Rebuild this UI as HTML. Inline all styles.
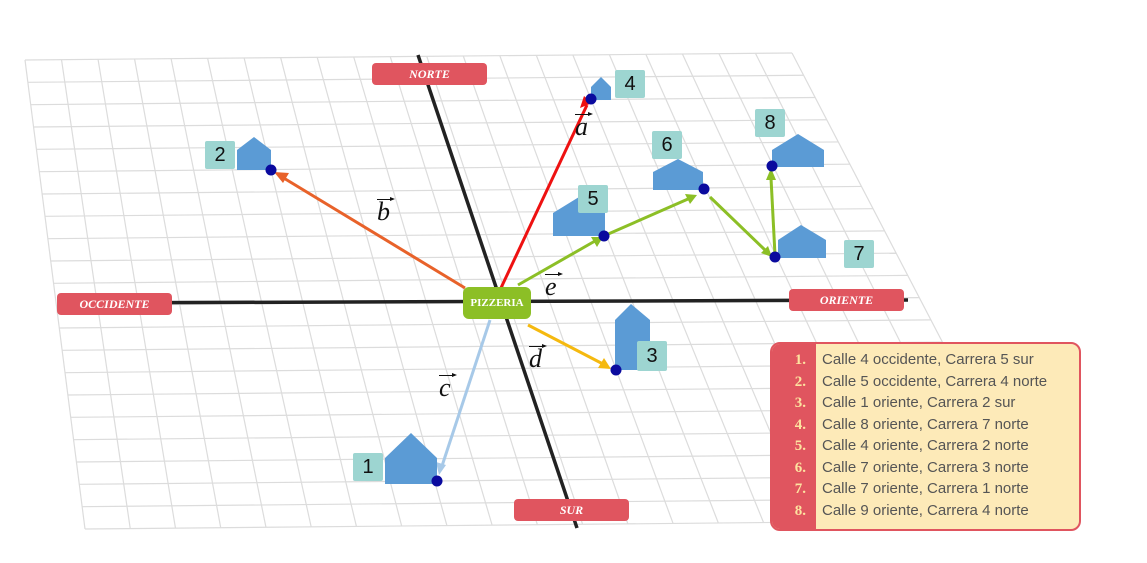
<!DOCTYPE html>
<html><head><meta charset="utf-8"><style>
body{margin:0;width:1147px;height:563px;background:#fff;overflow:hidden;position:relative;font-family:"Liberation Sans",sans-serif}
.lab{position:absolute;width:115px;height:22px;background:#e0555f;border-radius:4px;color:#fff;font:italic bold 12px "Liberation Serif",serif;text-align:center;line-height:22px}
.num{position:absolute;width:30px;height:28px;background:#9dd5d1;border-radius:2px;font-size:20px;line-height:28px;text-align:center;color:#111}
.vl{position:absolute;font:italic 26px "Liberation Serif",serif;color:#111}
.vl:before{content:"";position:absolute;left:0;top:2px;width:14px;height:1px;background:#111}
.vl:after{content:"";position:absolute;left:13px;top:0px;border-left:5px solid #111;border-top:2.5px solid transparent;border-bottom:2.5px solid transparent}
#leg{position:absolute;left:770px;top:342px;width:307px;height:185px;border:2px solid #e0555f;border-radius:10px;background:#fdeab8;overflow:hidden}
#leg .l{position:absolute;left:0;top:0;bottom:0;width:44px;background:#e0555f}
#leg .r{position:absolute;left:0;width:300px;height:21.5px;font-size:15px;color:#555;line-height:21.5px}
#leg .r b{display:inline-block;width:34px;text-align:right;color:#fde3a0;font:bold 15px "Liberation Serif",serif;margin-right:16px}
</style></head><body>
<svg width="1147" height="563" style="position:absolute;left:0;top:0">
<g id="grid" stroke="#dcdcdc" stroke-width="1.2" fill="none"></g>
<line x1="60" y1="303" x2="908" y2="300" stroke="#222" stroke-width="3.5"/>
<line x1="418" y1="55" x2="577" y2="528" stroke="#222" stroke-width="3.5"/>
<defs>
<marker id="m1" markerWidth="8" markerHeight="8" refX="7" refY="4" orient="auto" markerUnits="userSpaceOnUse" viewBox="0 0 8 8"><path d="M0,0L8,4L0,8z" fill="context-stroke"/></marker>
</defs>
<g stroke-width="3" fill="none">
<line x1="500" y1="290" x2="587" y2="105" stroke="#ee1111"/>
<path d="M584,96L592,103L580,108z" fill="#ee1111" stroke="none"/>
<line x1="465" y1="288" x2="282" y2="177" stroke="#e8622a"/>
<path d="M274,172L289,173L283,183z" fill="#e8622a" stroke="none"/>
<line x1="490" y1="320" x2="442" y2="466" stroke="#a7c9e8"/>
<path d="M439,475L436,462L446,465z" fill="#a7c9e8" stroke="none"/>
<line x1="528" y1="325" x2="603" y2="364" stroke="#f5b90f"/>
<path d="M611,369L598,368L604,358z" fill="#f5b90f" stroke="none"/>
<line x1="518" y1="285" x2="595" y2="241" stroke="#8cbf26"/>
<path d="M603,237L597,247L591,237z" fill="#8cbf26" stroke="none"/>
<line x1="606" y1="235" x2="688" y2="199" stroke="#8cbf26"/>
<path d="M697,195L690,204L685,194z" fill="#8cbf26" stroke="none"/>
<line x1="710" y1="197" x2="765" y2="250" stroke="#8cbf26"/>
<path d="M772,257L761,253L768,246z" fill="#8cbf26" stroke="none"/>
<line x1="775" y1="255" x2="771" y2="178" stroke="#8cbf26"/>
<path d="M771,168L776,180L766,180z" fill="#8cbf26" stroke="none"/>
</g>
<g fill="#5b9bd5">
<path d="M591,100V87L601,77L611,87V100z"/>
<path d="M237,170V150L254,137L271,150V170z"/>
<path d="M553,236V213L579,197L605,213V236z"/>
<path d="M653,190V172L678,159L703,172V190z"/>
<path d="M772,167V150L798,134L824,150V167z"/>
<path d="M778,258V240L801,225L826,240V258z"/>
<path d="M615,370V320L631,304L650,320V370z"/>
<path d="M385,484V458L411,433L437,458V484z"/>
</g>
<g fill="#0a0a9e">
<circle cx="591" cy="99" r="5.5"/><circle cx="271" cy="170" r="5.5"/><circle cx="437" cy="481" r="5.5"/>
<circle cx="616" cy="370" r="5.5"/><circle cx="604" cy="236" r="5.5"/><circle cx="704" cy="189" r="5.5"/>
<circle cx="775" cy="257" r="5.5"/><circle cx="772" cy="166" r="5.5"/>
</g>
</svg>
<div class="lab" style="left:372px;top:63px">NORTE</div>
<div class="lab" style="left:57px;top:293px">OCCIDENTE</div>
<div class="lab" style="left:789px;top:289px">ORIENTE</div>
<div class="lab" style="left:514px;top:499px">SUR</div>
<div style="position:absolute;left:463px;top:287px;width:68px;height:32px;background:#8cbf26;border-radius:6px;color:#fff;font:bold 11px 'Liberation Serif',serif;text-align:center;line-height:32px">PIZZERIA</div>
<div class="num" style="left:615px;top:70px">4</div>
<div class="num" style="left:205px;top:141px">2</div>
<div class="num" style="left:578px;top:185px">5</div>
<div class="num" style="left:652px;top:131px">6</div>
<div class="num" style="left:755px;top:109px">8</div>
<div class="num" style="left:844px;top:240px">7</div>
<div class="num" style="left:637px;top:341px;height:30px;line-height:30px">3</div>
<div class="num" style="left:353px;top:453px">1</div>
<div class="vl" style="left:575px;top:112px">a</div>
<div class="vl" style="left:377px;top:197px">b</div>
<div class="vl" style="left:439px;top:373px">c</div>
<div class="vl" style="left:529px;top:344px">d</div>
<div class="vl" style="left:545px;top:272px">e</div>
<div id="leg"><div class="l"></div>
<div class="r" style="top:5px"><b>1.</b>Calle 4 occidente, Carrera 5 sur</div>
<div class="r" style="top:26.5px"><b>2.</b>Calle 5 occidente, Carrera 4 norte</div>
<div class="r" style="top:48px"><b>3.</b>Calle 1 oriente, Carrera 2 sur</div>
<div class="r" style="top:69.5px"><b>4.</b>Calle 8 oriente, Carrera 7 norte</div>
<div class="r" style="top:91px"><b>5.</b>Calle 4 oriente, Carrera 2 norte</div>
<div class="r" style="top:112.5px"><b>6.</b>Calle 7 oriente, Carrera 3 norte</div>
<div class="r" style="top:134px"><b>7.</b>Calle 7 oriente, Carrera 1 norte</div>
<div class="r" style="top:155.5px"><b>8.</b>Calle 9 oriente, Carrera 4 norte</div>
</div>
<script>
(function(){
var g=document.getElementById('grid'),s='';
var TL=[25,60],TR=[792,53],BL=[85,529],BR=[1035,520];
function P(u,v){var tx=TL[0]+(TR[0]-TL[0])*u,ty=TL[1]+(TR[1]-TL[1])*u,bx=BL[0]+(BR[0]-BL[0])*u,by=BL[1]+(BR[1]-BL[1])*u;return [tx+(bx-tx)*v,ty+(by-ty)*v];}
var C=21,R=21;
for(var i=0;i<=C;i++){var a=P(i/C,0),b=P(i/C,1);s+='<line x1="'+a[0]+'" y1="'+a[1]+'" x2="'+b[0]+'" y2="'+b[1]+'"/>';}
for(var j=0;j<=R;j++){var a=P(0,j/R),b=P(1,j/R);s+='<line x1="'+a[0]+'" y1="'+a[1]+'" x2="'+b[0]+'" y2="'+b[1]+'"/>';}
g.innerHTML=s;})();
</script>
</body></html>
